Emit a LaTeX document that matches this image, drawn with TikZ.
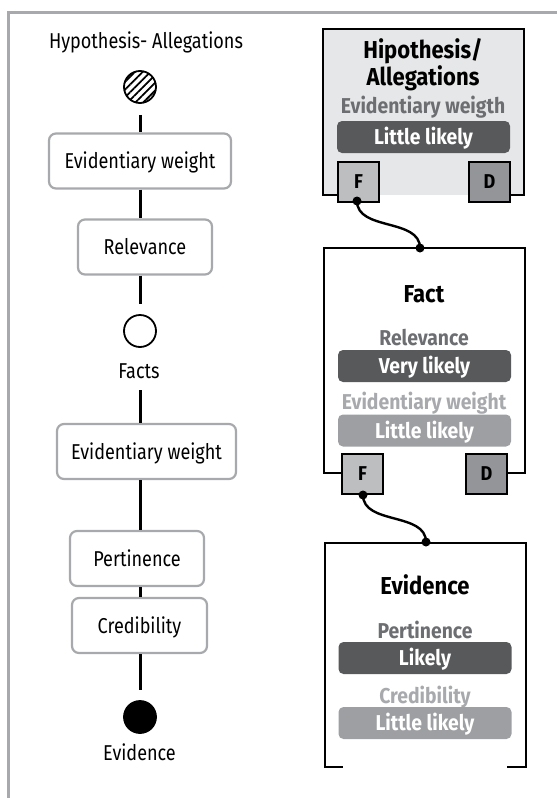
\documentclass[tikz,border=0pt]{standalone}
\usepackage{fontspec}
\setmainfont{Fira Sans}[FakeStretch=0.84]
\newfontfamily\heavy{Fira Sans}[FakeStretch=0.9]
\usepackage{xcolor}
\usetikzlibrary{positioning, patterns.meta}

\definecolor{frameg}{HTML}{A7A9AC}
\definecolor{boxg}{HTML}{A7A9AC}
\definecolor{paneg}{HTML}{E6E7E8}
\definecolor{darkbar}{HTML}{58595B}
\definecolor{lightbar}{HTML}{9D9FA2}
\definecolor{darktxt}{HTML}{6D6E71}
\definecolor{lighttxt}{HTML}{A7A9AC}
\definecolor{fport}{HTML}{BCBEC0}
\definecolor{dport}{HTML}{939598}

\begin{document}
\begin{tikzpicture}[
  x=1pt, y=1pt,
  font=\fontsize{21.5}{26}\selectfont,
  crit/.style={draw=boxg, line width=2.2pt, rounded corners=7pt, fill=white,
               minimum height=55pt, inner sep=0pt, text height=15pt, text depth=0pt},
  state/.style={circle, draw, line width=1.8pt, minimum size=32pt, inner sep=0pt},
  link/.style={line width=3pt},
  panel/.style={minimum width=201pt, inner sep=0pt},
  title/.style={font=\fontsize{24.5}{25}\selectfont\heavy\bfseries, align=center, anchor=base},
  critlbl/.style={font=\fontsize{21.5}{22}\selectfont\heavy\bfseries, anchor=base},
  bar/.style={rounded corners=5pt, minimum width=173pt, minimum height=32pt,
              inner sep=0pt, text=white, text height=15pt, text depth=0pt,
              font=\fontsize{21.5}{24}\selectfont\heavy\bfseries},
  port/.style={draw, line width=1.6pt, minimum width=41pt, minimum height=40pt,
               inner sep=0pt, font=\fontsize{20}{22}\selectfont\heavy\bfseries},
  edge/.style={line width=2.2pt},
  wire/.style={line width=2.4pt},
  pin/.style={circle, fill, inner sep=0pt, minimum size=9pt}
]
\useasboundingbox (0,0) rectangle (557,-798);
\draw[frameg, line width=3pt] (8.5,-798) -- (8.5,-12) -- (557,-12);

% left column
\coordinate (col) at (140,0);
\node[anchor=base] (hyplbl) at (146,-48) {Hypothesis- Allegations};
\node[state, pattern={Lines[angle=45, distance=5.5pt, line width=1.8pt]}] (hyp) at (140,-87) {};
\node[crit, minimum width=182pt] (ew1) at (140,-161) {Evidentiary weight};
\node[crit, minimum width=134pt] (rel) at (145,-247) {Relevance};
\node[state, fill=white] (facts) at (140,-331) {};
\node[anchor=base] (factslbl) at (139,-378) {Facts};
\node[crit, minimum width=179pt] (ew2) at (146.5,-451.5) {Evidentiary weight};
\node[crit, minimum width=134pt] (pert) at (137,-558.5) {Pertinence};
\node[crit, minimum width=135pt] (cred) at (139.5,-625.5) {Credibility};
\node[state, fill=black] (evid) at (140,-717) {};
\node[anchor=base] (evidlbl) at (139.5,-760) {Evidence};

\draw[link, shorten <=11pt] (col |- hyp.south) -- (col |- ew1.north);
\draw[link] (col |- ew1.south) -- (col |- rel.north);
\draw[link, shorten >=10pt] (col |- rel.south) -- (col |- facts.north);
\draw[link, shorten <=12pt] (col |- factslbl.base) -- (col |- ew2.north);
\draw[link] (col |- ew2.south) -- (col |- pert.north);
\draw[link] (col |- pert.south) -- (col |- cred.north);
\draw[link, shorten >=10pt] (col |- cred.south) -- (col |- evid.north);

% right column: hypothesis
\node[panel, fill=paneg, minimum height=166pt] (hyppanel) at (423.5,-112) {};
\node[title] (hyptitle) at (423,-85) {Hipothesis/\\Allegations};
\node[critlbl, text=darktxt] (hypew) at (423,-113) {Evidentiary weigth};
\node[bar, fill=darkbar] (hypewbar) at (423.5,-137) {Little likely};
\node[port, fill=fport] (hypF) at (358.5,-182) {F};
\node[port, fill=dport] (hypD) at (489.5,-182) {D};
\draw[edge] (hypF.west |- hyppanel.south) -- (hyppanel.south west)
  -- (hyppanel.north west) -- (hyppanel.north east) -- (hyppanel.south east)
  -- (hypD.east |- hyppanel.south);

% fact
\node[panel, minimum height=225pt] (factpanel) at (424.5,-360.5) {};
\node[title] (facttitle) at (424,-302) {Fact};
\node[critlbl, text=darktxt] (factrel) at (424,-345) {Relevance};
\node[bar, fill=darkbar] (factrelbar) at (424.5,-366) {Very likely};
\node[critlbl, text=lighttxt] (factew) at (424,-409) {Evidentiary weight};
\node[bar, fill=lightbar] (factewbar) at (424.5,-430.5) {Little likely};
\node[port, fill=fport] (factF) at (362.5,-474) {F};
\node[port, fill=dport] (factD) at (486.5,-474) {D};
\draw[edge] (factF.west |- factpanel.south) -- (factpanel.south west)
  -- (factpanel.north west) -- (factpanel.north east) -- (factpanel.south east)
  -- (factD.east |- factpanel.south);

% evidence
\node[panel, minimum height=224pt] (evpanel) at (425.5,-655) {};
\node[title] (evtitle) at (425,-594) {Evidence};
\node[critlbl, text=darktxt] (evpert) at (425,-638) {Pertinence};
\node[bar, fill=darkbar] (evpertbar) at (425,-658) {Likely};
\node[critlbl, text=lighttxt] (evcred) at (425,-703) {Credibility};
\node[bar, fill=lightbar] (evcredbar) at (425,-723) {Little likely};
\draw[edge] ([xshift=18pt]evpanel.south west) -- (evpanel.south west)
  |- (evpanel.north east) -- (evpanel.south east)
  -- ([xshift=-19pt]evpanel.south east);

% wires
\node[pin] (w1a) at (357,-201) {};
\node[pin] (w1b) at (420,-248) {};
\node[pin] (w2a) at (363,-495) {};
\node[pin] (w2b) at (426,-542) {};
\draw[wire] (w1a.center) .. controls +(0,-30) and +(0,30) .. (w1b.center);
\draw[wire] (w2a.center) .. controls +(0,-30) and +(0,30) .. (w2b.center);
\end{tikzpicture}
\end{document}
